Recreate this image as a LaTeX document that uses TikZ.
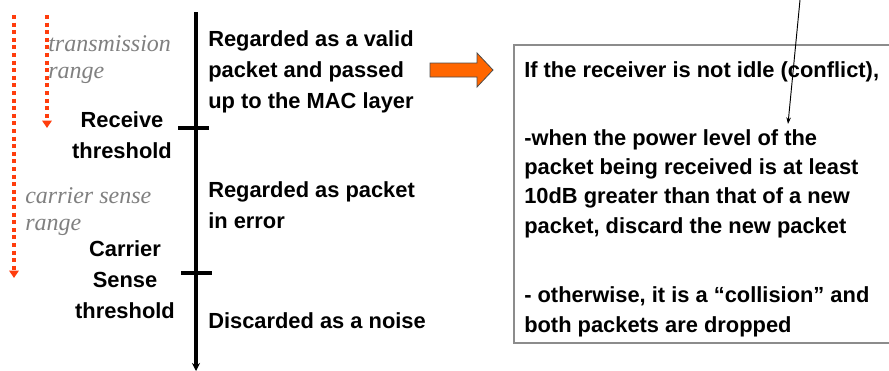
\documentclass[tikz,border=0pt]{standalone}
\usepackage{fontspec}
\setmainfont{Liberation Sans}
\newfontfamily\rangefont{Liberation Serif}
\usetikzlibrary{arrows.meta,positioning}
\definecolor{RangeRed}{HTML}{FF3D0D}
\definecolor{ArrowOrange}{HTML}{FF6600}
\definecolor{RangeGray}{HTML}{808080}
\definecolor{Frame}{HTML}{8C8C8C}
\tikzset{
  bodytext/.style={inner sep=0pt,anchor=base west,align=left,
    font=\bfseries\fontsize{16.4}{23.25}\selectfont},
  boxtext/.style={bodytext,font=\bfseries\fontsize{16.4}{22}\selectfont},
  threshtext/.style={inner sep=0pt,anchor=base,align=center,
    font=\bfseries\fontsize{16.4}{23.25}\selectfont},
  rangetext/.style={inner sep=0pt,anchor=base west,align=left,text=RangeGray,
    font=\rangefont\itshape\fontsize{18}{20}\selectfont},
  rangearrow/.style={draw=RangeRed,line width=3pt,dash pattern=on 3pt off 2.7pt,
    -{Triangle[width=7pt,length=5.5pt,fill=RangeRed]}},
  axisline/.style={line width=2.4pt,-{Stealth[length=6pt,width=6pt]}},
  tickmark/.style={line width=2.4pt},
  pointer/.style={line width=0.7pt,-{Stealth[length=5pt,width=3.5pt]}},
  frameline/.style={draw=Frame,line width=1.3pt}
}
\begin{document}
\begin{tikzpicture}[x=0.75pt,y=-0.75pt]
  \useasboundingbox (0,0) rectangle (889,371);
  % range arrows
  \coordinate (cstop) at (14,15);
  \coordinate (csend) at (14,278);
  \coordinate (txtop) at (47,15);
  \coordinate (txend) at (47,128);
  \draw[rangearrow] (cstop) -- (csend);
  \draw[rangearrow] (txtop) -- (txend);
  % base anchor sits on the last line
  \node[rangetext] (txrange) at (48,78) {transmission\\range};
  \node[rangetext] (csrange) at (25,230) {carrier sense\\range};
  % power axis with the two thresholds
  \coordinate (axtop) at (196,12);
  \coordinate (axbot) at (196,371);
  \draw[axisline] (axtop) -- (axbot);
  \coordinate (rxl) at (178,128);
  \coordinate (rxr) at (209,128);
  \coordinate (csl) at (181,273);
  \coordinate (csr) at (212,273);
  \draw[tickmark] (rxl) -- (rxr);
  \draw[tickmark] (csl) -- (csr);
  \node[threshtext] (rxth) at (122,158) {Receive\\threshold};
  \node[threshtext] (csth) at (125,318) {Carrier\\Sense\\threshold};
  % outcomes
  \node[bodytext] (valid) at (208,108) {Regarded as a valid\\packet and passed\\up to the MAC layer};
  \node[bodytext] (error) at (208,228) {Regarded as packet\\in error};
  \node[bodytext] (noise) at (208,328) {Discarded as a noise};
  % block arrow
  \draw[draw=black!70,fill=ArrowOrange,line width=0.6pt]
    (430,63) -- (477,63) -- (477,53) -- (493,70) -- (477,87) -- (477,77) -- (430,77) -- cycle;
  % conflict box
  \draw[frameline] (889,45) -| (514,343) -- (889,343);
  \node[boxtext] (idle) at (524,77) {If the receiver is not idle (conflict),};
  \node[boxtext] (stronger) at (524,233) {-when the power level of the\\packet being received is at least\\10dB greater than that of a new\\packet, discard the new packet};
  \node[boxtext] (collide) at (524,332) {- otherwise, it is a “collision” and\\both packets are dropped};
  \coordinate (ptop) at (800,0);
  \coordinate (ptip) at (788,124);
  \draw[pointer] (ptop) -- (ptip);
\end{tikzpicture}
\end{document}
